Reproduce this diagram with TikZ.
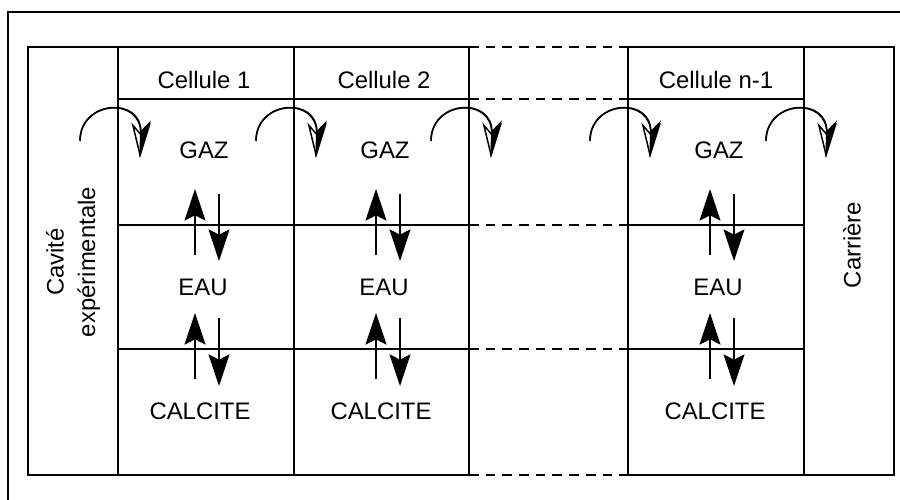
\documentclass[tikz,border=0pt]{standalone}
\usepackage{fontspec}
\setmainfont{Liberation Sans}
\usetikzlibrary{arrows.meta}

\begin{document}
\begin{tikzpicture}[x=0.02cm, y=-0.02cm,
    wall/.style={line width=1.1pt},
    gap/.style={line width=1.1pt, dash pattern=on 5.5pt off 4pt},
    flux/.style={line width=0.8pt, -{Stealth[length=18pt, width=12pt, inset=3pt]}},
    swirl/.style={line width=0.85pt, -{Stealth[open, length=20pt, width=11pt, inset=6pt]}},
    swirlfill/.style={line width=0.85pt, -{Stealth[harpoon, length=20pt, width=11pt, inset=6pt]}},
    lbl/.style={font=\fontsize{13.6}{18}\selectfont, anchor=base, inner sep=0pt}]
    \useasboundingbox (0,0) rectangle (900,500);

    % Outer frame
    \draw[wall] (8,500) -- (8,12) -- (900,12);

    % Cells 1 and 2
    \draw[wall] (28,47) rectangle (469,475);
    \foreach \x in {118,294}
        \draw[wall] (\x,47) -- (\x,475);
    \foreach \y in {99,225,349}
        \draw[wall] (118,\y) -- (469,\y);

    % Cell n-1 and outlet
    \draw[wall] (628,47) rectangle (894,475);
    \draw[wall] (804,47) -- (804,475);
    \foreach \y in {99,225,349}
        \draw[wall] (628,\y) -- (804,\y);

    % Missing cells
    \foreach \y in {47,99}
        \draw[gap] (469,\y) -- (628,\y);
    \foreach \y in {225,349,475}
        \draw[gap] (469,\y) -- (652,\y);

    % Labels
    \foreach \x/\n [count=\i] in {204/1, 384/2, 716/n-1}
        \node[lbl] (head\i) at (\x,89) {Cellule \n};
    \foreach \x [count=\i] in {204,385,719} {
        \node[lbl] (gaz\i) at (\x,159) {GAZ};
        \node[lbl] (eau\i) at (\x-1,296) {EAU};
        \node[lbl] (calc\i) at (\x-4,419) {CALCITE};
    }
    \node[lbl, anchor=center, rotate=90, align=center] (cavite) at (73,262) {Cavité\\expérimentale};
    \node[lbl, anchor=center, rotate=90] (carriere) at (852,245) {Carrière};

    % Exchanges between phases
    \foreach \x in {204,385,719} {
        \draw[flux] (\x-9,255) -- (\x-9,189);
        \draw[flux] (\x+15,194) -- (\x+15,261);
        \draw[flux] (\x-9,379) -- (\x-9,313);
        \draw[flux] (\x+15,318) -- (\x+15,386);
    }

    % Gas transfer from cell to cell
    \foreach \x in {118,294,469,628,804} {
        \draw[swirl] (\x-38,141) .. controls (\x-38,100) and (\x+24,96) .. (\x+22,158);
        \draw[swirlfill] (\x-38,141) .. controls (\x-38,100) and (\x+24,96) .. (\x+22,158);
    }
\end{tikzpicture}
\end{document}
